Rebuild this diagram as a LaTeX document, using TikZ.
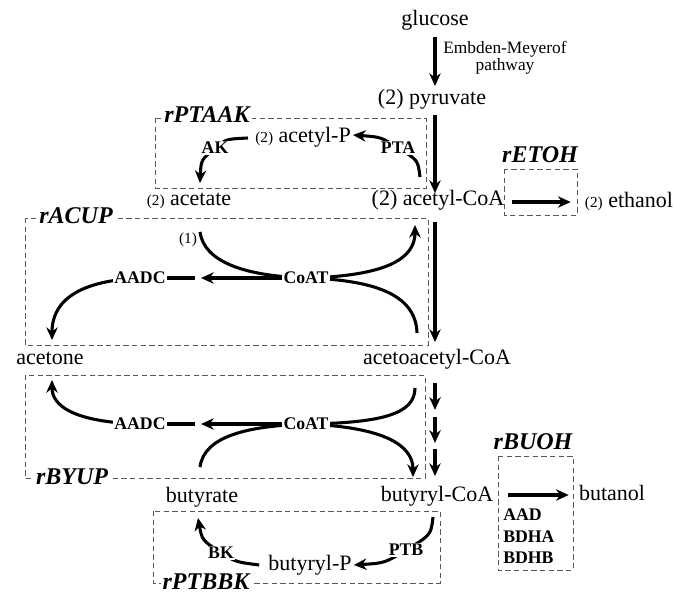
\documentclass[tikz,border=0pt]{standalone}
\usepackage{fontspec}
\setmainfont{Liberation Serif}
\usetikzlibrary{arrows.meta,calc}
\newcommand\smtwo{{\fontsize{11.5}{12}\selectfont(2)}}
\begin{document}
\begin{tikzpicture}[x=0.75pt,y=-0.75pt,
 txt/.style={font=\fontsize{16.5}{19}\selectfont, inner sep=0pt, text height=12pt, text depth=4pt},
 enz/.style={font=\fontsize{13.3}{14}\selectfont\bfseries, inner sep=1.2pt, fill=white},
 blab/.style={font=\fontsize{18}{20}\selectfont\bfseries\itshape, inner sep=1.5pt, fill=white},
 dbox/.style={draw=black!65, line width=0.6pt, dash pattern=on 4pt off 2.5pt},
 arr/.style={line width=2.3pt, -{Stealth[length=9.5pt,width=8.5pt,inset=3pt]}},
 ln/.style={line width=2.3pt}]
\useasboundingbox (0,0) rectangle (677,594);

% dashed reaction boxes
\draw[dbox] (155,118) rectangle (426,188);
\draw[dbox] (25,218) rectangle (428,345);
\draw[dbox] (504,169) rectangle (577,215);
\draw[dbox] (25,375) rectangle (425,478);
\draw[dbox] (153,511) rectangle (440,583);
\draw[dbox] (498,456) rectangle (573,570);

% box labels
\node[blab] (lPTAAK) at (207,115) {rPTAAK};
\node[blab] (lACUP) at (76,216) {rACUP};
\node[blab] (lETOH) at (540,155) {rETOH};
\node[blab] (lBYUP) at (72,477) {rBYUP};
\node[blab] (lPTBBK) at (206,582) {rPTBBK};
\node[blab] (lBUOH) at (533,442) {rBUOH};

% metabolites
\node[txt] (glucose) at (435,20) {glucose};
\node[txt] (pyruvate) at (432,99) {(2) pyruvate};
\node[font=\fontsize{13}{12.75}\selectfont, align=center, inner sep=0pt] (emb) at (505,58) {Embden-Meyerof\\pathway};
\node[txt] (acetylP) at (303,137) {\smtwo{} acetyl-P};
\node[txt] (acetate) at (189,200) {\smtwo{} acetate};
\node[txt] (acetylCoA) at (438,200) {(2) acetyl-CoA};
\node[txt] (ethanol) at (629,202) {\smtwo{} ethanol};
\node[txt] (acetone) at (50,359) {acetone};
\node[txt] (acetoacetyl) at (437,359) {acetoacetyl-CoA};
\node[txt] (butyrate) at (202,497) {butyrate};
\node[txt] (butyrylCoA) at (437,496) {butyryl-CoA};
\node[txt] (butanol) at (612,495) {butanol};
\node[txt] (butyrylP) at (310,565) {butyryl-P};
\node[font=\fontsize{11.5}{12}\selectfont, inner sep=0pt] (one) at (188,240) {(1)};

% enzyme positions
\coordinate (pAK) at (215,148);
\coordinate (pPTA) at (398,148);
\coordinate (pCoAT1) at (306,278);
\coordinate (pAADC1) at (140,278);
\coordinate (pCoAT2) at (306,424);
\coordinate (pAADC2) at (140,424);
\coordinate (pBK) at (221,553);
\coordinate (pPTB) at (406,550);

% main spine
\coordinate (sp) at (435,0);
\draw[arr] ($(sp|-glucose.south)+(0,6)$) -- ($(sp|-pyruvate.north)+(0,-2)$);
\draw[arr] ($(sp|-pyruvate.south)+(0,5)$) -- ($(sp|-acetylCoA.north)+(0,4)$);
\draw[arr] ($(sp|-acetylCoA.south)+(0,11)$) -- ($(sp|-acetoacetyl.north)+(0,-6)$);
\draw[arr] ($(sp|-acetoacetyl.south)+(0,13)$) -- ++(0,27);
\draw[arr] ($(sp|-acetoacetyl.south)+(0,47)$) -- ++(0,26);
\draw[arr] ($(sp|-butyrylCoA.north)+(0,-36)$) -- ++(0,27);

% ethanol and butanol
\draw[arr] ($(acetylCoA.east)+(7,2)$) -- ($(ethanol.west)+(-14,0)$);
\draw[arr] ($(butyrylCoA.east)+(15,-1)$) -- ($(butanol.west)+(-10,0)$);

% rPTAAK
\draw[arr] ($(acetylP.west)+(-7,1)$) .. controls (226,139) .. (pAK) .. controls (201,160) .. ($(acetate.north)+(11,-6)$);
\draw[arr] ($(acetylCoA.north)+(-18,-12)$) .. controls (418,160) .. (pPTA) .. controls (381,137) .. ($(acetylP.east)+(2,-2)$);

% rACUP
\draw[ln] ($(acetate.south)+(11,21)$) .. controls (204,262) and (245,276) .. (pCoAT1);
\draw[arr] (pCoAT1) .. controls (388,276) and (415,258) .. ($(acetylCoA.south)+(-23,14)$);
\draw[ln] ($(acetoacetyl.north)+(-20,-15)$) .. controls (416,298) and (382,280) .. (pCoAT1);
\draw[arr] (pCoAT1) -- (201,278);
\draw[ln] (pAADC1) -- (195,278);
\draw[arr] (pAADC1) .. controls (72,281) and (52,305) .. ($(acetone.north)+(2,-8)$);

% rBYUP
\draw[ln] ($(acetoacetyl.south)+(-22,18)$) .. controls (415,414) and (382,423) .. (pCoAT2);
\draw[arr] (pCoAT2) .. controls (386,427) and (413,446) .. ($(butyrylCoA.north)+(-24,-8)$);
\draw[ln] ($(butyrate.north)+(-2,-19)$) .. controls (204,436) and (248,426) .. (pCoAT2);
\draw[arr] (pCoAT2) -- (201,424);
\draw[ln] (pAADC2) -- (195,424);
\draw[arr] (pAADC2) .. controls (72,422) and (52,405) .. ($(acetone.south)+(2,10)$);

% rPTBBK
\draw[arr] ($(butyrylCoA.south)+(-4,10)$) .. controls (431,535) .. (pPTB) .. controls (385,563) .. ($(butyrylP.east)+(2,0)$);
\draw[arr] ($(butyrylP.west)+(-9,0)$) .. controls (236,562) .. (pBK) .. controls (202,540) .. ($(butyrate.south)+(-4,10)$);

% enzyme labels (on top of the arrows)
\node[enz] (AK) at (pAK) {AK};
\node[enz] (PTA) at (pPTA) {PTA};
\node[enz] (CoAT1) at (pCoAT1) {CoAT};
\node[enz] (AADC1) at (pAADC1) {AADC};
\node[enz] (CoAT2) at (pCoAT2) {CoAT};
\node[enz] (AADC2) at (pAADC2) {AADC};
\node[enz] (BK) at (pBK) {BK};
\node[enz] (PTB) at (pPTB) {PTB};
\node[enz, fill=none, inner sep=0pt, anchor=west] (AAD) at (503,515) {AAD};
\node[enz, fill=none, inner sep=0pt, anchor=west] (BDHA) at (503,537) {BDHA};
\node[enz, fill=none, inner sep=0pt, anchor=west] (BDHB) at (503,558) {BDHB};
\end{tikzpicture}
\end{document}
